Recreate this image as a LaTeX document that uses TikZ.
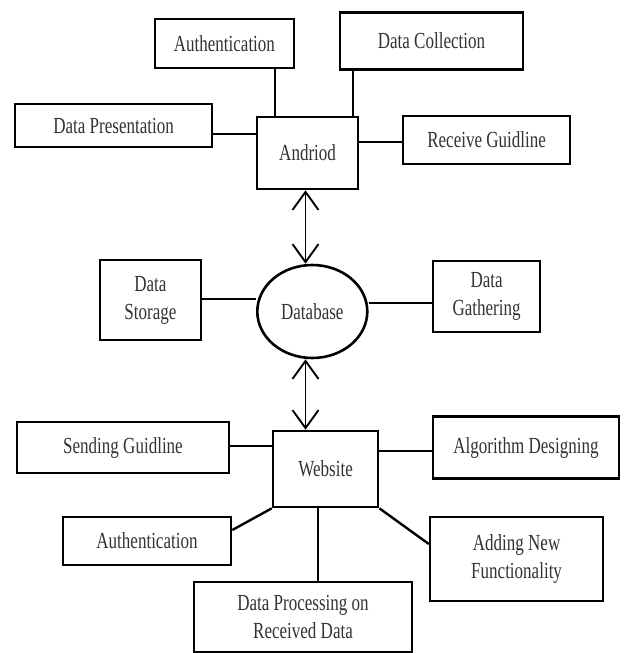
\documentclass[tikz,border=0pt]{standalone}
\usepackage{fontspec}
\setmainfont[FakeStretch=0.74]{Liberation Serif}
\usetikzlibrary{shapes.geometric,arrows.meta}
\tikzset{
  box/.style={draw=black, line width=2.6pt, rectangle, inner sep=0pt, align=center,
    font=\fontsize{23}{28}\selectfont, text=black!80},
  conn/.style={line width=2.4pt},
  dbl/.style={line width=1.9pt, {Straight Barb[length=18pt,width=26pt,line width=1.9pt]}-{Straight Barb[length=18pt,width=26pt,line width=1.9pt]}}
}
\begin{document}
\begin{tikzpicture}[x=1pt,y=-1pt]
\useasboundingbox[fill=white] (0,0) rectangle (624,653);
% top cluster
\node[box, minimum width=139, minimum height=49] (au1) at (224.4,43.5) {Authentication};
\node[box, minimum width=183, minimum height=57] (dc) at (431.5,41) {Data Collection};
\node[box, minimum width=197, minimum height=43] (dp) at (113.6,125.5) {Data Presentation};
\node[box, minimum width=101, minimum height=72] (an) at (307.6,153) {Andriod};
\node[box, minimum width=167, minimum height=48] (rg) at (486.6,140) {Receive Guidline};
% middle
\node[box, minimum width=101, minimum height=80] (ds) at (150.4,300) {Data\\Storage};
\node[box, ellipse, minimum width=110, minimum height=93] (db) at (312.3,311.5) {Database};
\node[box, minimum width=107, minimum height=71] (dg) at (486.6,296.5) {Data\\Gathering};
% bottom cluster
\node[box, minimum width=212, minimum height=51] (sg) at (123,447.5) {Sending Guidline};
\node[box, minimum width=105, minimum height=76] (ws) at (325.6,469) {Website};
\node[box, minimum width=186, minimum height=62] (ad) at (526,447.5) {Algorithm Designing};
\node[box, minimum width=168, minimum height=48] (au2) at (147,541) {Authentication};
\node[box, minimum width=173, minimum height=84] (anf) at (516.6,559) {Adding New\\Functionality};
\node[box, minimum width=218, minimum height=70] (dpr) at (303,617) {Data Processing on\\Received Data};
% connectors top
\draw[conn] (au1.south -| 275.2,0) -- (an.north -| 275.2,0);
\draw[conn] (dc.south -| 352.8,0) -- (an.north -| 352.8,0);
\draw[conn] (dp.east |- 0,134) -- (an.west |- 0,134);
\draw[conn] (an.east |- 0,142) -- (rg.west |- 0,142);
% connectors middle
\draw[conn] (ds.east |- 0,299) -- (db.west |- 0,299);
\draw[conn] (db.east |- 0,303) -- (dg.west |- 0,303);
% connectors bottom
\draw[conn] (sg.east |- 0,446) -- (ws.west |- 0,446);
\draw[conn] (ws.east |- 0,451) -- (ad.west |- 0,451);
\draw[conn] (ws.south west) -- (au2.east |- 0,530);
\draw[conn] (ws.south -| 318,0) -- (dpr.north -| 318,0);
\draw[conn] (ws.south east) -- (anf.west |- 0,544);
% arrows
\draw[dbl] (an.south -| 305.5,0) -- (db.north -| 305.5,0);
\draw[dbl] (db.south -| 305.5,0) -- (ws.north -| 305.5,0);
\end{tikzpicture}
\end{document}
